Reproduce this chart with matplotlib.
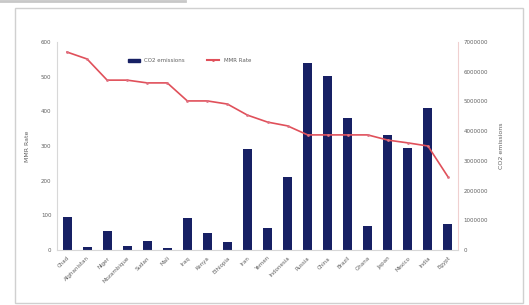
import matplotlib.pyplot as plt
from matplotlib.patches import Rectangle, Patch
from matplotlib.lines import Line2D

countries = ["Chad", "Afghanistan", "Niger", "Mozambique", "Sudan", "Mali",
             "Iraq", "Kenya", "Ethiopia", "Iran", "Yemen", "Indonesia",
             "Russia", "China", "Brazil", "Ghana", "Japan", "Mexico",
             "India", "Egypt"]
co2 = [1110000, 100000, 640000, 140000, 300000, 80000, 1080000, 570000,
       280000, 3400000, 740000, 2460000, 6300000, 5860000, 4440000, 810000,
       3870000, 3430000, 4780000, 880000]
mmr = [571, 551, 490, 490, 482, 482, 430, 430, 421, 389, 369, 358,
       332, 332, 332, 332, 317, 309, 300, 211]

fig = plt.figure(figsize=(5.29, 3.05), dpi=100)
fig.patches.append(Rectangle((15 / 529, 2 / 305), 508 / 529, 295 / 305,
                             transform=fig.transFigure, fill=False,
                             edgecolor="#d0d0d0", linewidth=1))
fig.add_artist(Line2D([0, 0.35], [0.997, 0.997], transform=fig.transFigure,
                      color="#c8c8c8", linewidth=2))

ax = fig.add_axes([57 / 529, 55 / 305, 401 / 529, 208 / 305])
ax2 = ax.twinx()

x = range(len(countries))
ax2.bar(x, co2, width=0.45, color="#172064", zorder=2)
ax2.set_ylim(0, 7000000)
ax2.set_yticks(range(0, 7000001, 1000000))
ax2.ticklabel_format(axis="y", style="plain", useOffset=False)

ax.plot(x, mmr, color="#e0505a", linewidth=1.2, marker="o", markersize=2,
        markerfacecolor="#e07080", markeredgewidth=0, zorder=5)
ax.set_ylim(0, 600)
ax.set_yticks(range(0, 601, 100))
ax.set_xlim(-0.5, len(countries) - 0.5)
ax.set_xticks(list(x))
ax.set_xticklabels(countries, rotation=45, ha="right", rotation_mode="anchor")
ax.set_zorder(ax2.get_zorder() + 1)
ax.patch.set_visible(False)

for a in (ax, ax2):
    a.tick_params(length=0, labelsize=4, colors="#606060", pad=4)
    for s in a.spines.values():
        s.set_visible(False)
ax.spines["left"].set_visible(True)
ax.spines["left"].set_color("#d8d8d8")
ax.spines["bottom"].set_visible(True)
ax.spines["bottom"].set_color("#d8d8d8")
ax2.spines["right"].set_visible(True)
ax2.spines["right"].set_color("#f0d0d0")

ax.set_ylabel("MMR Rate", fontsize=4.5, color="#606060", labelpad=8)
ax2.set_ylabel("CO2 emissions", fontsize=4.5, color="#606060", labelpad=8)

handles = [Patch(color="#172064"),
           Line2D([], [], color="#e0505a", marker="o", markersize=2,
                  markeredgewidth=0)]
ax.legend(handles, ["CO2 emissions", "MMR Rate"], loc="center",
          bbox_to_anchor=(0.33, 0.91), ncol=2, frameon=False, fontsize=4,
          handlelength=2.2, handleheight=0.5, columnspacing=4,
          labelcolor="#606060")

fig.savefig("out.png", dpi=100)
